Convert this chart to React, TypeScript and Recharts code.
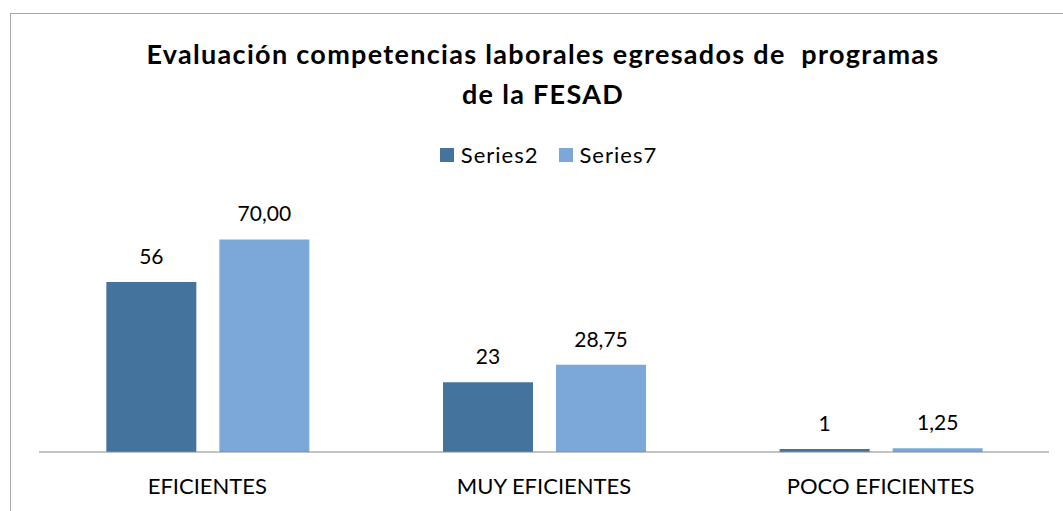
import React from "react";
import { BarChart, Bar, XAxis, YAxis, Legend, LabelList } from "recharts";

const categories = ["EFICIENTES", "MUY EFICIENTES", "POCO EFICIENTES"];
const series2 = [56, 23, 1];
const series7 = [70, 28.75, 1.25];

const chartData = categories.map((name, i) => ({
  name,
  series2: series2[i],
  series7: series7[i],
}));

const FONT = "Lato, 'Open Sans', sans-serif";
const COLOR_S2 = "#44739e";
const COLOR_S7 = "#7ba8d8";

const fmtS7 = (v: any) => Number(v).toFixed(2).replace(".", ",");

const LegendContent = (props: any) => {
  const { payload } = props;
  return (
    <div style={{ display: "flex", justifyContent: "center", fontFamily: FONT, fontSize: 22, letterSpacing: 1 }}>
      {(payload || []).map((entry: any, i: number) => (
        <div key={i} style={{ display: "flex", alignItems: "center", marginLeft: i > 0 ? 20 : 0 }}>
          <span style={{ width: 14, height: 14, background: entry.color, display: "inline-block", marginRight: 7 }} />
          <span style={{ color: "#000" }}>{entry.value}</span>
        </div>
      ))}
    </div>
  );
};

export default function App() {
  return (
    <div style={{ position: "absolute", left: 0, top: 0, width: 1063, height: 511, background: "#fff", overflow: "hidden" }}>
      <div
        style={{
          position: "absolute",
          left: 10,
          top: 13,
          width: 1070,
          height: 520,
          border: "1px solid #a6a6a6",
          boxSizing: "border-box",
        }}
      />
      <div
        style={{
          position: "absolute",
          left: 0,
          top: 34,
          width: 1086,
          textAlign: "center",
          fontFamily: FONT,
          fontWeight: "bold",
          fontSize: 27,
          letterSpacing: 1.3,
          lineHeight: "40px",
          color: "#000",
        }}
      >
        Evaluación competencias laborales egresados de&nbsp; programas
        <br />
        de la FESAD
      </div>
      <BarChart
        width={1063}
        height={511}
        data={chartData}
        margin={{ top: 209, right: 14, bottom: 0, left: 39 }}
        barCategoryGap="20%"
        barGap={23}
        style={{ position: "absolute", left: 0, top: 0 }}
      >
        <XAxis
          dataKey="name"
          height={59}
          tickLine={false}
          tickSize={0}
          tickMargin={26}
          axisLine={{ stroke: "#888888" }}
          tick={{ fill: "#000", fontSize: 22, fontFamily: FONT }}
        />
        <YAxis hide domain={[0, 80]} />
        <Legend
          verticalAlign="middle"
          content={<LegendContent />}
          wrapperStyle={{ top: 141, left: 17, width: 1063 }}
        />
        <Bar dataKey="series2" name="Series2" fill={COLOR_S2} isAnimationActive={false}>
          <LabelList dataKey="series2" position="top" offset={18} fill="#000" fontSize={21} fontFamily={FONT} />
        </Bar>
        <Bar dataKey="series7" name="Series7" fill={COLOR_S7} isAnimationActive={false}>
          <LabelList
            dataKey="series7"
            position="top"
            offset={18}
            fill="#000"
            fontSize={21}
            fontFamily={FONT}
            formatter={fmtS7}
          />
        </Bar>
      </BarChart>
    </div>
  );
}
